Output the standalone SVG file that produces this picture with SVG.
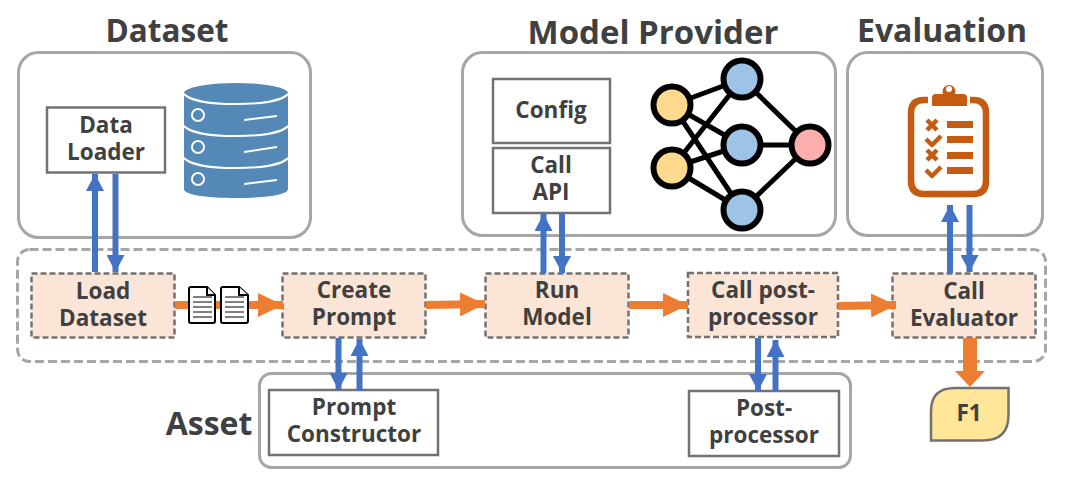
<svg xmlns="http://www.w3.org/2000/svg" width="1072" height="487" viewBox="0 0 1072 487">
<style>
text{font-family:"Open Sans","Noto Sans","Liberation Sans",sans-serif;font-weight:700;fill:#404040;text-anchor:middle}
.t{font-size:32px}
.l{font-size:22.500px}
.g{fill:#fff;stroke:#a6a6a6;stroke-width:3}
.w{fill:#fff;stroke:#767171;stroke-width:2.5}
.p{fill:#fbe5d6;stroke:#767171;stroke-width:2.5;stroke-dasharray:6 3}
.b{stroke:#4472c4;stroke-width:6;fill:none;marker-end:url(#bh)}
.o{stroke:#ed7d31;stroke-width:8;fill:none;marker-end:url(#oh)}
.n{stroke:#000;stroke-width:5;fill:none}
.c{stroke:#000;stroke-width:6}
.e{fill:none;stroke:#c55a11;stroke-width:4.500;stroke-linejoin:round}
.r{fill:#c55a11}
.d{fill:#fff;stroke:#000;stroke-width:2;stroke-linejoin:round}
.dl{stroke:#000;stroke-width:1.2}
.db{fill:none;stroke:#fff;stroke-width:2}
</style>
<defs>
<marker id="bh" markerUnits="userSpaceOnUse" markerWidth="18" markerHeight="18" refX="17" refY="9" orient="auto"><path d="M0 0L17 9L0 18z" fill="#4472c4"/></marker>
<marker id="oh" markerUnits="userSpaceOnUse" markerWidth="26" markerHeight="24" refX="25" refY="12" orient="auto"><path d="M0 0L25 12L0 24z" fill="#ed7d31"/></marker>
</defs>
<rect width="1072" height="487" fill="#fff"/>
<g id="dataset">
<text class="t" x="167" y="42" style="font-size:31.500px">Dataset</text>
<rect class="g" x="18.500" y="52.500" width="292" height="185" rx="20"/>
<g id="database">
<path d="M184 94V189C184 195 207 198 236 198S288 195 288 189V94z" fill="#5488b6"/>
<ellipse cx="236" cy="93" rx="52" ry="10" fill="#5488b6"/>
<path class="db" d="M184 94C190 101 212 104 236 104S282 101 288 94M184 126C190 133 212 136 236 136S282 133 288 126M184 158C190 165 212 168 236 168S282 165 288 158"/>
<circle class="db" cx="198" cy="115" r="6"/><circle class="db" cx="198" cy="147" r="6"/><circle class="db" cx="198" cy="179" r="6"/>
<path class="db" d="M244 120L277 116M244 152L277 147M244 184L277 180"/>
</g>
</g>
<g id="data-loader"><rect class="w" x="47" y="107.500" width="118" height="65"/><text class="l"><tspan x="106" y="133">Data</tspan><tspan x="106" y="160">Loader</tspan></text></g>
<g id="model-provider">
<text class="t" x="653" y="44" style="font-size:33px">Model Provider</text>
<rect class="g" x="462.500" y="52.500" width="373" height="183" rx="20"/>
<g id="neural-net">
<path class="n" d="M672 105L742 79M672 105L742 145M672 105L742 210M672 168L742 79M672 168L742 145M672 168L742 210M742 79L810 145M742 145L810 145M742 210L810 145"/>
<circle class="c" cx="672" cy="105" r="18.500" fill="#ffd98e"/><circle class="c" cx="672" cy="168" r="18.500" fill="#ffd98e"/>
<circle class="c" cx="742" cy="79" r="18.500" fill="#9dc3e6"/><circle class="c" cx="742" cy="145" r="18.500" fill="#9dc3e6"/><circle class="c" cx="742" cy="210" r="18.500" fill="#9dc3e6"/>
<circle class="c" cx="810" cy="145" r="18.500" fill="#ffaeae"/>
</g>
</g>
<g id="config"><rect class="w" x="493" y="79" width="117" height="64"/><text class="l" x="551" y="118">Config</text></g>
<g id="call-api"><rect class="w" x="493" y="148" width="117" height="65"/><text class="l"><tspan x="551" y="173">Call</tspan><tspan x="551" y="200">API</tspan></text></g>
<g id="evaluation">
<text class="t" x="942" y="42">Evaluation</text>
<rect class="g" x="847.500" y="52.500" width="195" height="183" rx="20"/>
<g id="clipboard">
<path d="M928 100H924Q911 100 911 113V181Q911 194 924 194H973Q986 194 986 181V113Q986 100 973 100H970" fill="none" stroke="#c55a11" stroke-width="6.500"/>
<path class="r" d="M932 106V98Q932 94 936 94H943A6.500 6.500 0 1 1 955 94H963Q967 94 967 98V106z"/>
<circle cx="949" cy="89" r="3" fill="#fff"/>
<rect class="r" x="947" y="121" width="26" height="7"/><rect class="r" x="947" y="136" width="26" height="7"/><rect class="r" x="947" y="152" width="26" height="7"/><rect class="r" x="947" y="167" width="26" height="7"/>
<path class="e" d="M927 120L937 130M937 120L927 130M927 150L937 160M937 150L927 160M926 139L932 145L941 136M926 170L932 176L941 167"/>
</g>
</g>
<g id="pipeline"><rect x="17.500" y="249.500" width="1028" height="112" rx="12" fill="#fff" stroke="#a6a6a6" stroke-width="3" stroke-dasharray="9 4"/></g>
<g id="load-dataset"><rect class="p" x="31.500" y="273.500" width="143" height="64"/><text class="l"><tspan x="103" y="299">Load</tspan><tspan x="103" y="326">Dataset</tspan></text></g>
<g id="create-prompt"><rect class="p" x="282.500" y="273.500" width="143" height="64"/><text class="l"><tspan x="354" y="298">Create</tspan><tspan x="354" y="325">Prompt</tspan></text></g>
<g id="run-model"><rect class="p" x="485.500" y="273.500" width="143" height="64"/><text class="l"><tspan x="557" y="298">Run</tspan><tspan x="557" y="325">Model</tspan></text></g>
<g id="call-post-processor"><rect class="p" x="688" y="273" width="150" height="64"/><text class="l"><tspan x="763" y="298">Call post-</tspan><tspan x="763" y="325">processor</tspan></text></g>
<g id="call-evaluator"><rect class="p" x="892.500" y="273.500" width="143" height="64"/><text class="l"><tspan x="964" y="299">Call</tspan><tspan x="964" y="326">Evaluator</tspan></text></g>
<g id="asset">
<text class="t" x="209" y="435">Asset</text>
<rect class="g" x="259.500" y="373.500" width="591" height="94" rx="12"/>
</g>
<g id="prompt-constructor"><rect class="w" x="269" y="390" width="169" height="65"/><text class="l"><tspan x="354" y="415">Prompt</tspan><tspan x="354" y="442">Constructor</tspan></text></g>
<g id="post-processor"><rect class="w" x="689" y="391" width="150" height="65"/><text class="l"><tspan x="764" y="416">Post-</tspan><tspan x="764" y="443">processor</tspan></text></g>
<g id="f1"><path d="M931 440.500V411Q931 388 955 388H1008.500V415Q1008.500 440.500 983 440.500z" fill="#ffe699" stroke="#767171" stroke-width="2.500"/><text class="l" x="969" y="421">F1</text></g>
<g id="connectors">
<path class="b" d="M95 272V174"/><path class="b" d="M115.500 174V272"/>
<path class="b" d="M543.500 273V214"/><path class="b" d="M562 213V273"/>
<path class="b" d="M950 273V205"/><path class="b" d="M969.500 205V272"/>
<path class="b" d="M338.500 338V390"/><path class="b" d="M359.500 391V339"/>
<path class="b" d="M758 338V391"/><path class="b" d="M775.500 391V340"/>
<path class="o" d="M175 305H283"/><path class="o" d="M426 305L485 304"/><path class="o" d="M629 305L688 305"/><path class="o" d="M838 306L896 305"/>
<path d="M970 338V373" stroke="#ed7d31" stroke-width="14" fill="none"/><path d="M955 371H985L970 387z" fill="#ed7d31"/>
</g>
<g id="documents">
<path class="d" d="M191 287H207L215 295V321Q215 323 213 323H191Q189 323 189 321V289Q189 287 191 287z"/>
<path class="d" d="M207 287V295H215" />
<path class="dl" d="M193 297H212M193 302H212M193 307H212M193 312H212M193 317H212"/>
<path class="d" d="M223 287H239L248 295V321Q248 323 246 323H223Q221 323 221 321V289Q221 287 223 287z"/>
<path class="d" d="M239 287V295H248"/>
<path class="dl" d="M225 297H244M225 302H244M225 307H244M225 312H244M225 317H244"/>
</g>
</svg>
